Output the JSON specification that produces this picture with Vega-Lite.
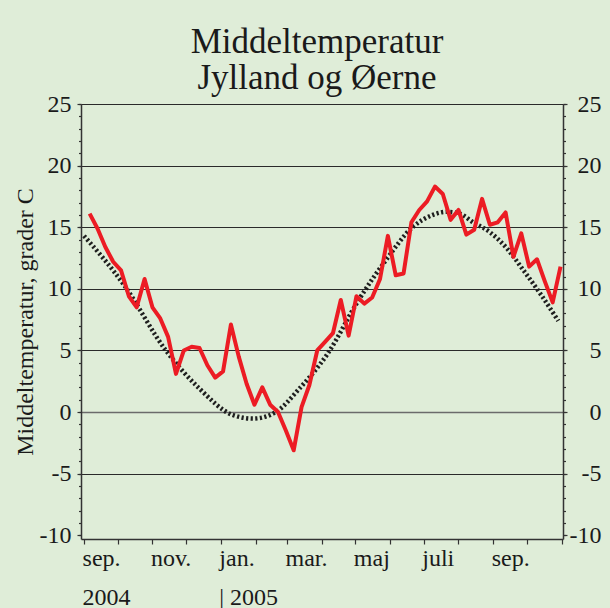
{
  "$schema": "https://vega.github.io/schema/vega-lite/v6.json",
  "width": 482,
  "height": 435,
  "autosize": {"type": "none"},
  "padding": {"left": 81, "top": 104, "right": 47, "bottom": 69},
  "background": "#dfedd8",
  "config": {
    "view": {"stroke": null},
    "font": "Liberation Serif",
    "axis": {"labelFont": "Liberation Serif", "titleFont": "Liberation Serif", "labelColor": "#1a1a1a", "titleColor": "#1a1a1a", "domainColor": "#333333", "tickColor": "#333333"}
  },
  "title": {
    "text": ["Middeltemperatur", "Jylland og Øerne"],
    "fontSize": 35,
    "font": "Liberation Serif",
    "fontWeight": "normal",
    "color": "#1a1a1a",
    "lineHeight": 36,
    "anchor": "middle",
    "baseline": "bottom",
    "offset": 9,
    "dy": 48,
    "dx": -5
  },
  "datasets": {
    "obs": [
      {"date": "2004-09-06", "temp": 16.1},
      {"date": "2004-09-13", "temp": 14.9},
      {"date": "2004-09-20", "temp": 13.4},
      {"date": "2004-09-27", "temp": 12.2},
      {"date": "2004-10-04", "temp": 11.5},
      {"date": "2004-10-11", "temp": 9.4},
      {"date": "2004-10-18", "temp": 8.5},
      {"date": "2004-10-25", "temp": 10.8},
      {"date": "2004-11-01", "temp": 8.5},
      {"date": "2004-11-08", "temp": 7.6},
      {"date": "2004-11-15", "temp": 6.1},
      {"date": "2004-11-22", "temp": 3.1},
      {"date": "2004-11-29", "temp": 5.0},
      {"date": "2004-12-06", "temp": 5.3},
      {"date": "2004-12-13", "temp": 5.2},
      {"date": "2004-12-20", "temp": 3.8},
      {"date": "2004-12-27", "temp": 2.8},
      {"date": "2005-01-03", "temp": 3.3},
      {"date": "2005-01-10", "temp": 7.1},
      {"date": "2005-01-17", "temp": 4.5},
      {"date": "2005-01-24", "temp": 2.3},
      {"date": "2005-01-31", "temp": 0.6},
      {"date": "2005-02-07", "temp": 2.0},
      {"date": "2005-02-14", "temp": 0.6},
      {"date": "2005-02-21", "temp": 0.0},
      {"date": "2005-02-28", "temp": -1.5},
      {"date": "2005-03-07", "temp": -3.1},
      {"date": "2005-03-14", "temp": 0.4},
      {"date": "2005-03-21", "temp": 2.2},
      {"date": "2005-03-28", "temp": 5.0},
      {"date": "2005-04-04", "temp": 5.7},
      {"date": "2005-04-11", "temp": 6.4},
      {"date": "2005-04-18", "temp": 9.1},
      {"date": "2005-04-25", "temp": 6.2},
      {"date": "2005-05-02", "temp": 9.4},
      {"date": "2005-05-09", "temp": 8.8},
      {"date": "2005-05-16", "temp": 9.3},
      {"date": "2005-05-23", "temp": 10.8},
      {"date": "2005-05-30", "temp": 14.3},
      {"date": "2005-06-06", "temp": 11.1},
      {"date": "2005-06-13", "temp": 11.25},
      {"date": "2005-06-20", "temp": 15.4},
      {"date": "2005-06-27", "temp": 16.4},
      {"date": "2005-07-04", "temp": 17.1},
      {"date": "2005-07-11", "temp": 18.3},
      {"date": "2005-07-18", "temp": 17.7},
      {"date": "2005-07-25", "temp": 15.6},
      {"date": "2005-08-01", "temp": 16.4},
      {"date": "2005-08-08", "temp": 14.4},
      {"date": "2005-08-15", "temp": 14.8},
      {"date": "2005-08-22", "temp": 17.3},
      {"date": "2005-08-29", "temp": 15.2},
      {"date": "2005-09-05", "temp": 15.4},
      {"date": "2005-09-12", "temp": 16.2},
      {"date": "2005-09-19", "temp": 12.6},
      {"date": "2005-09-26", "temp": 14.5},
      {"date": "2005-10-03", "temp": 11.8},
      {"date": "2005-10-10", "temp": 12.4},
      {"date": "2005-10-17", "temp": 10.6},
      {"date": "2005-10-24", "temp": 8.9},
      {"date": "2005-10-31", "temp": 11.8}
    ],
    "normal": [
      {"date": "2004-09-01", "temp": 14.3},
      {"date": "2004-10-06", "temp": 10.4},
      {"date": "2004-11-13", "temp": 5.0},
      {"date": "2004-12-13", "temp": 1.9},
      {"date": "2005-01-12", "temp": -0.25},
      {"date": "2005-01-30", "temp": -0.53},
      {"date": "2005-02-19", "temp": 0.0},
      {"date": "2005-03-12", "temp": 1.9},
      {"date": "2005-04-06", "temp": 4.7},
      {"date": "2005-05-04", "temp": 9.1},
      {"date": "2005-05-28", "temp": 12.3},
      {"date": "2005-06-21", "temp": 15.0},
      {"date": "2005-07-09", "temp": 16.0},
      {"date": "2005-07-21", "temp": 16.25},
      {"date": "2005-08-02", "temp": 16.1},
      {"date": "2005-08-14", "temp": 15.4},
      {"date": "2005-08-29", "temp": 14.6},
      {"date": "2005-09-13", "temp": 13.3},
      {"date": "2005-09-28", "temp": 11.5},
      {"date": "2005-10-13", "temp": 9.6},
      {"date": "2005-10-29", "temp": 7.4}
    ]
  },
  "encoding": {
    "x": {
      "field": "date",
      "type": "temporal",
      "scale": {"domain": [{"year": 2004, "month": 8, "date": 29, "hours": 7, "utc": true}, {"year": 2005, "month": 11, "date": 2, "hours": 5, "utc": true}]},
      "axis": {
        "title": null,
        "grid": false,
        "values": [
          {"year": 2004, "month": 9, "date": 1, "utc": true},
          {"year": 2004, "month": 10, "date": 1, "utc": true},
          {"year": 2004, "month": 11, "date": 1, "utc": true},
          {"year": 2004, "month": 12, "date": 1, "utc": true},
          {"year": 2005, "month": 1, "date": 1, "utc": true},
          {"year": 2005, "month": 2, "date": 1, "utc": true},
          {"year": 2005, "month": 3, "date": 1, "utc": true},
          {"year": 2005, "month": 4, "date": 1, "utc": true},
          {"year": 2005, "month": 5, "date": 1, "utc": true},
          {"year": 2005, "month": 6, "date": 1, "utc": true},
          {"year": 2005, "month": 7, "date": 1, "utc": true},
          {"year": 2005, "month": 8, "date": 1, "utc": true},
          {"year": 2005, "month": 9, "date": 1, "utc": true},
          {"year": 2005, "month": 10, "date": 1, "utc": true},
          {"year": 2005, "month": 11, "date": 1, "utc": true}
        ],
        "labelExpr": "utcyear(datum.value) == 2004 && utcmonth(datum.value) == 8 ? ['sep.', '2004'] : (utcyear(datum.value) == 2005 && utcmonth(datum.value) == 0 ? ['jan.', '| 2005'] : ((utcyear(datum.value) == 2005 && utcmonth(datum.value) == 10) || utcmonth(datum.value) % 2 == 1 ? '' : ['jan.','feb.','mar.','apr.','maj','juni','juli','aug.','sep.','okt.','nov.','dec.'][utcmonth(datum.value)]))",
        "tickSize": 5,
        "tickWidth": 1.2,
        "domainWidth": 1.5,
        "labelAlign": "left",
        "labelBaseline": "top",
        "labelPadding": 2.5,
        "labelOffset": -2,
        "labelFontSize": 24,
        "labelLineHeight": 38.5,
        "labelOverlap": false,
        "labelFlush": false
      }
    }
  },
  "layer": [
    {
      "data": {"name": "normal"},
      "mark": {"type": "line", "opacity": 0},
      "encoding": {
        "y": {
          "field": "temp", "type": "quantitative",
          "scale": {"domain": [-10.3, 25], "nice": false, "zero": false},
          "axis": {"orient": "left", "values": [-5, 0, 5, 10, 15, 20, 25], "grid": true, "ticks": false, "labels": false, "domain": false, "title": null,
            "gridColor": {"condition": {"test": "datum.value === 0", "value": "#6b6b6b"}, "value": "#2a2a2a"},
            "gridWidth": {"condition": {"test": "datum.value === 0", "value": 1.6}, "value": 1.1}}
        }
      }
    },
    {
      "data": {"name": "normal"},
      "mark": {"type": "line", "opacity": 0},
      "encoding": {
        "y": {
          "field": "temp", "type": "quantitative",
          "scale": {"domain": [-10.3, 25], "nice": false, "zero": false},
          "axis": {"orient": "left", "values": [-10,-9,-8,-7,-6,-5,-4,-3,-2,-1,0,1,2,3,4,5,6,7,8,9,10,11,12,13,14,15,16,17,18,19,20,21,22,23,24,25], "grid": false, "labels": false, "domain": false, "title": null, "tickSize": 2.5, "tickWidth": 1.2}
        }
      }
    },
    {
      "data": {"name": "normal"},
      "mark": {"type": "line", "opacity": 0},
      "encoding": {
        "y": {
          "field": "temp", "type": "quantitative",
          "scale": {"domain": [-10.3, 25], "nice": false, "zero": false},
          "axis": {"orient": "right", "values": [-10,-9,-8,-7,-6,-5,-4,-3,-2,-1,0,1,2,3,4,5,6,7,8,9,10,11,12,13,14,15,16,17,18,19,20,21,22,23,24,25], "grid": false, "labels": false, "domain": false, "title": null, "tickSize": 2.5, "tickWidth": 1.2}
        }
      }
    },
    {
      "data": {"name": "normal"},
      "mark": {"type": "line", "color": "#1e1e1e", "strokeWidth": 4.5, "strokeDash": [2.2, 2.4], "strokeCap": "butt", "interpolate": "monotone"},
      "encoding": {
        "y": {
          "field": "temp", "type": "quantitative",
          "scale": {"domain": [-10.3, 25], "nice": false, "zero": false},
          "axis": {"orient": "left", "values": [-10, -5, 0, 5, 10, 15, 20, 25], "grid": false,
            "title": "Middeltemperatur, grader C", "titleFontSize": 24, "titleFontWeight": "normal", "titlePadding": 2,
            "labelFontSize": 24, "labelPadding": 6, "tickSize": 4, "tickWidth": 1.2, "domainWidth": 1.5,
            "labelExpr": "datum.value < 0 ? '-' + abs(datum.value) : '' + datum.value"}
        }
      }
    },
    {
      "data": {"name": "obs"},
      "mark": {"type": "line", "color": "#ec1c24", "strokeWidth": 4, "strokeJoin": "round"},
      "encoding": {
        "y": {
          "field": "temp", "type": "quantitative",
          "scale": {"domain": [-10.3, 25], "nice": false, "zero": false},
          "axis": {"orient": "right", "values": [-10, -5, 0, 5, 10, 15, 20, 25], "grid": false, "title": null,
            "labelFontSize": 24, "labelAlign": "right", "labelPadding": 34, "tickSize": 4, "tickWidth": 1.2, "domainWidth": 1.5,
            "labelExpr": "datum.value < 0 ? '-' + abs(datum.value) : '' + datum.value"}
        }
      }
    }
  ],
  "resolve": {"axis": {"y": "independent"}}
}
